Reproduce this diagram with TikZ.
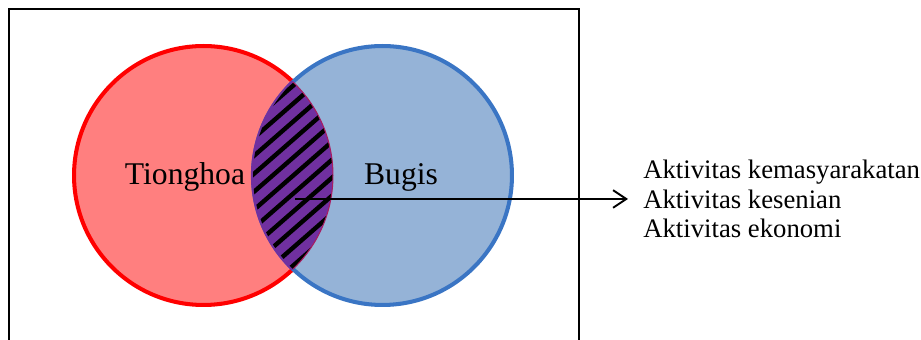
\documentclass[tikz,border=0pt]{standalone}
\usepackage{fontspec}
\setmainfont{Liberation Serif}
\usetikzlibrary{arrows.meta}

\definecolor{tionghoaFill}{HTML}{FF7F7F}
\definecolor{tionghoaLine}{HTML}{FF0000}
\definecolor{bugisFill}{HTML}{95B3D7}
\definecolor{bugisLine}{HTML}{3A75C4}
\definecolor{irisan}{HTML}{7030A0}

\tikzset{
  himpunan/.style={circle, line width=2.3pt, minimum size=5.18cm, inner sep=0pt},
  namaset/.style={anchor=base, font=\fontsize{18}{20}\selectfont},
}

\begin{document}
\begin{tikzpicture}[x=0.02cm, y=-0.02cm]
        \useasboundingbox (0,0) rectangle (921,340);
        \clip (0,0) rectangle (921,340);
        % semesta pembicaraan
        \node[draw, line width=1.4pt, outer sep=0pt, anchor=north west,
              minimum width=11.4cm, minimum height=7cm] (semesta) at (9,9) {};
        % dua himpunan
        \node[himpunan, draw=tionghoaLine, fill=tionghoaFill] (tionghoa) at (203.5,175.5) {};
        \node[himpunan, draw=bugisLine, fill=bugisFill] (bugis) at (382.5,175.5) {};
        % irisan, diarsir
        \begin{scope}
            \clip (tionghoa.center) circle[radius=2.59cm];
            \fill[irisan] (bugis.center) circle[radius=2.59cm];
            \draw[irisan, line width=2.4pt] (bugis.center) circle[radius=2.59cm];
            \clip (bugis.center) circle[radius=2.59cm];
            \foreach \y in {60,78,...,420}
                \draw[line width=2.5pt] (240,\y) -- (350,\y-96);
        \end{scope}
        \begin{scope}
            \clip (bugis.center) circle[radius=2.59cm];
            \draw[irisan!60!tionghoaLine, line width=0.6pt] (tionghoa.center) circle[radius=2.59cm];
        \end{scope}
        \node[namaset] (ltionghoa) at (185,185) {Tionghoa};
        \node[namaset] (lbugis) at (401,185) {Bugis};
        % daftar aktivitas bersama
        \coordinate (pangkal) at (295,199);
        \node[anchor=west, align=left, inner xsep=0.3cm, inner ysep=0pt,
              font=\fontsize{15.2}{17}\selectfont] (aktivitas) at (628,199)
            {Aktivitas kemasyarakatan\\Aktivitas kesenian\\Aktivitas ekonomi};
        \draw[-{Straight Barb[length=7.5pt, width=10pt]}, line width=1.1pt] (pangkal) -- (aktivitas.west);
\end{tikzpicture}
\end{document}
